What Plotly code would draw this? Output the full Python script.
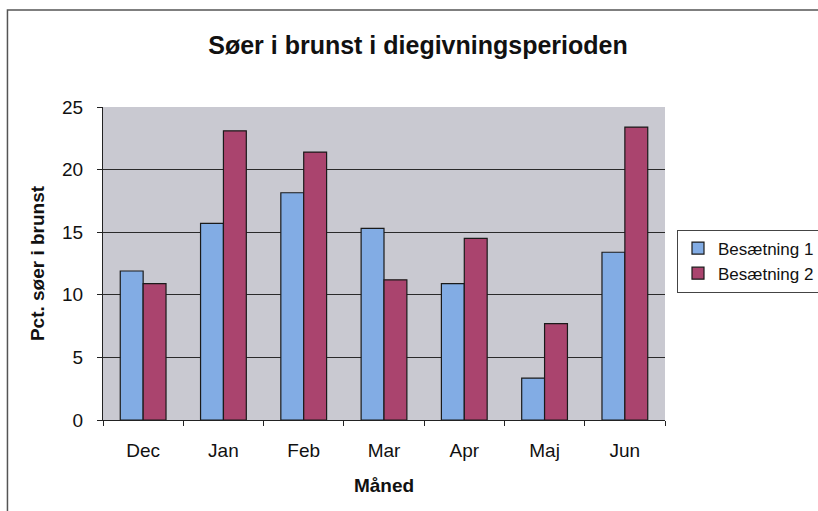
import plotly.graph_objects as go

maaneder = ["Dec", "Jan", "Feb", "Mar", "Apr", "Maj", "Jun"]
besaetning_1 = [11.9, 15.7, 18.15, 15.3, 10.9, 3.35, 13.4]
besaetning_2 = [10.9, 23.1, 21.4, 11.2, 14.5, 7.7, 23.4]
y_ticks = [0, 5, 10, 15, 20, 25]

font = "Liberation Sans, Arial, sans-serif"

fig = go.Figure()
fig.add_trace(go.Bar(x=maaneder, y=besaetning_1, name="Besætning 1",
                     marker=dict(color="#82ACE4", line=dict(color="#1a1a1a", width=1.2))))
fig.add_trace(go.Bar(x=maaneder, y=besaetning_2, name="Besætning 2",
                     marker=dict(color="#AA446E", line=dict(color="#1a1a1a", width=1.2))))

fig.update_layout(
    width=818, height=511,
    margin=dict(l=103, r=151, t=107, b=91),
    paper_bgcolor="white",
    plot_bgcolor="#C9C9D1",
    font=dict(family=font, size=19, color="#111"),
    barmode="group", bargap=0.43, bargroupgap=0,
    title=dict(text="<b>Søer i brunst i diegivningsperioden</b>", xref="container",
               x=0.511, xanchor="center", yref="container", y=1 - 45 / 511,
               yanchor="middle", font=dict(size=25)),
    legend=dict(xref="container", yref="container", x=677 / 818, xanchor="left",
                y=1 - 261 / 511, yanchor="middle",
                bgcolor="white", bordercolor="#444", borderwidth=1,
                font=dict(size=17), tracegroupgap=0, itemwidth=30),
    showlegend=True,
)
fig.update_xaxes(
    title=dict(text="<b>Måned</b>", standoff=18, font=dict(size=19)),
    showline=True, linecolor="#222", linewidth=1,
    ticks="outside", tickson="boundaries", ticklen=5, tickcolor="#222",
    ticklabelstandoff=13,
    showgrid=False,
)
fig.update_yaxes(
    title=dict(text="<b>Pct. søer i brunst</b>", standoff=12, font=dict(size=19)),
    range=[0, 25], tickvals=y_ticks,
    showline=True, linecolor="#222", linewidth=1,
    ticks="outside", ticklen=5, tickcolor="#222",
    ticklabelstandoff=10,
    showgrid=True, gridcolor="#2a2a2a", gridwidth=1,
    zeroline=False,
)
# chart frame
fig.add_shape(type="rect", xref="paper", yref="paper",
              x0=-0.170, x1=2, y0=-1, y1=(420 - 10) / 313,
              line=dict(color="#555", width=1.5), fillcolor="rgba(0,0,0,0)", layer="below")

fig.write_html("out.html", config={"displayModeBar": False},
               post_script="document.body.style.margin='0px';")
